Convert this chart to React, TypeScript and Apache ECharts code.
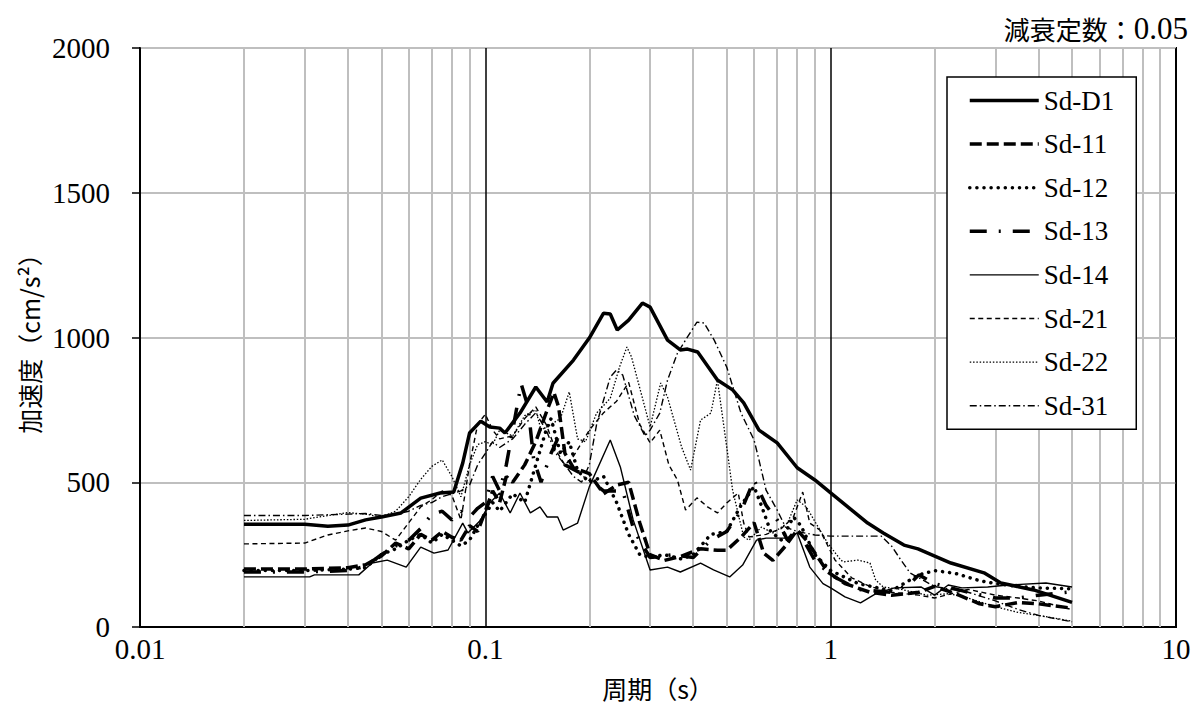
import React, { useEffect, useRef } from "react";
import * as echarts from "echarts";

// ---- data (period [s], acceleration [cm/s2]) ----
const seriesNames = ["Sd-D1", "Sd-11", "Sd-12", "Sd-13", "Sd-14", "Sd-21", "Sd-22", "Sd-31"];
const xTickValues = [0.01, 0.1, 1, 10];
const xTickLabels = ["0.01", "0.1", "1", "10"];
const minorGridPeriods = [
  0.02, 0.03, 0.04, 0.05, 0.06, 0.07, 0.08, 0.09,
  0.2, 0.3, 0.4, 0.5, 0.6, 0.7, 0.8, 0.9,
  2, 3, 4, 5, 6, 7, 8, 9,
];
const titleLabel = "減衰定数：";
const titleValue = "0.05";
const xName = "周期（s）";
const yName = "加速度（cm/s²）";

const sdD1 = [
  [0.02, 355], [0.03, 355], [0.035, 348], [0.04, 352], [0.045, 370], [0.05, 380], [0.057, 394],
  [0.065, 445], [0.074, 463], [0.081, 466], [0.086, 566], [0.09, 670], [0.097, 711], [0.103, 691],
  [0.11, 687], [0.114, 670], [0.126, 739], [0.14, 829], [0.151, 777], [0.157, 842], [0.18, 922],
  [0.2, 998], [0.22, 1084], [0.23, 1081], [0.241, 1026], [0.26, 1060], [0.285, 1119], [0.3, 1105],
  [0.337, 991], [0.367, 957], [0.385, 960], [0.412, 950], [0.47, 853], [0.52, 819], [0.56, 774],
  [0.62, 680], [0.7, 636], [0.8, 550], [0.9, 508], [1.0, 463], [1.28, 359], [1.42, 325],
  [1.63, 283], [1.79, 270], [2.23, 221], [2.78, 187], [3.11, 152], [3.87, 128], [5.0, 85],
];
const sd11 = [
  [0.02, 200], [0.03, 200], [0.04, 205], [0.045, 215], [0.05, 245], [0.055, 290], [0.06, 270],
  [0.065, 320], [0.07, 300], [0.075, 330], [0.08, 310], [0.085, 300], [0.09, 350], [0.095, 330],
  [0.1, 400], [0.105, 470], [0.11, 430], [0.115, 520], [0.12, 500], [0.13, 560], [0.14, 640],
  [0.15, 740], [0.158, 810], [0.163, 760], [0.17, 600], [0.18, 550], [0.2, 530], [0.22, 460],
  [0.24, 490], [0.26, 500], [0.28, 360], [0.3, 250], [0.33, 230], [0.37, 245], [0.42, 270],
  [0.47, 265], [0.5, 265], [0.55, 310], [0.6, 360], [0.64, 255], [0.68, 230], [0.74, 280],
  [0.8, 335], [0.85, 300], [0.98, 190], [1.1, 150], [1.3, 120], [1.5, 110], [1.8, 120],
  [2.0, 140], [2.3, 115], [2.7, 80], [3.0, 70], [3.5, 85], [4.0, 80], [5.0, 65],
];
const sd12 = [
  [0.02, 195], [0.03, 195], [0.04, 200], [0.045, 205], [0.05, 250], [0.055, 270], [0.06, 300],
  [0.065, 320], [0.07, 290], [0.075, 320], [0.08, 300], [0.085, 280], [0.09, 300], [0.095, 350],
  [0.1, 390], [0.105, 430], [0.11, 400], [0.12, 460], [0.13, 430], [0.14, 560], [0.15, 680],
  [0.155, 720], [0.165, 600], [0.175, 640], [0.185, 540], [0.2, 500], [0.22, 520], [0.24, 430],
  [0.26, 320], [0.28, 250], [0.3, 240], [0.33, 250], [0.37, 235], [0.4, 250], [0.45, 320],
  [0.5, 330], [0.55, 420], [0.6, 485], [0.63, 420], [0.67, 330], [0.72, 300], [0.78, 380],
  [0.82, 350], [0.9, 250], [1.0, 195], [1.2, 150], [1.5, 125], [1.8, 180], [2.0, 195],
  [2.3, 185], [2.7, 160], [3.0, 150], [3.5, 140], [4.0, 135], [5.0, 132],
];
const sd13 = [
  [0.02, 190], [0.03, 190], [0.04, 195], [0.045, 210], [0.05, 250], [0.055, 280], [0.06, 300],
  [0.065, 340], [0.07, 390], [0.075, 400], [0.08, 370], [0.085, 400], [0.09, 380], [0.095, 410],
  [0.1, 430], [0.105, 520], [0.11, 470], [0.115, 560], [0.12, 680], [0.127, 840], [0.133, 760],
  [0.138, 580], [0.145, 500], [0.155, 600], [0.162, 650], [0.17, 560], [0.19, 530], [0.2, 510],
  [0.22, 470], [0.25, 470], [0.27, 330], [0.3, 240], [0.35, 250], [0.4, 240], [0.45, 300],
  [0.5, 330], [0.55, 400], [0.6, 508], [0.65, 420], [0.7, 370], [0.75, 300], [0.8, 340],
  [0.9, 230], [1.0, 180], [1.2, 130], [1.5, 120], [1.7, 150], [1.8, 180], [2.0, 150],
  [2.5, 120], [3.0, 100], [3.5, 100], [4.0, 110], [5.0, 122],
];
const sd14 = [
  [0.02, 173], [0.031, 173], [0.032, 180], [0.043, 180], [0.047, 221], [0.052, 231], [0.059, 207],
  [0.065, 276], [0.071, 255], [0.078, 266], [0.086, 359], [0.089, 325], [0.097, 370], [0.103, 428],
  [0.11, 463], [0.118, 394], [0.126, 463], [0.135, 394], [0.144, 415], [0.151, 380], [0.162, 380],
  [0.168, 335], [0.185, 359], [0.2, 484], [0.23, 646], [0.246, 553], [0.268, 370], [0.3, 197],
  [0.337, 207], [0.367, 190], [0.42, 221], [0.458, 197], [0.51, 173], [0.556, 214], [0.61, 300],
  [0.65, 307], [0.75, 307], [0.8, 325], [0.87, 207], [0.95, 150], [1.0, 135], [1.1, 104],
  [1.22, 83], [1.36, 117], [1.53, 135], [1.83, 138], [2.0, 110], [2.19, 145], [2.4, 135],
  [2.85, 138], [3.26, 145], [4.2, 152], [5.0, 138],
];
const sd21 = [
  [0.02, 287], [0.03, 290], [0.035, 318], [0.04, 332], [0.045, 342], [0.05, 330], [0.055, 300],
  [0.06, 360], [0.065, 415], [0.07, 440], [0.075, 470], [0.08, 455], [0.085, 370], [0.09, 560],
  [0.095, 700], [0.1, 735], [0.105, 680], [0.11, 650], [0.12, 660], [0.13, 720], [0.14, 760],
  [0.15, 700], [0.16, 610], [0.17, 560], [0.18, 590], [0.2, 680], [0.22, 740], [0.24, 780],
  [0.26, 845], [0.28, 700], [0.3, 636], [0.32, 680], [0.34, 560], [0.36, 508], [0.38, 404],
  [0.41, 446], [0.44, 415], [0.47, 394], [0.5, 428], [0.54, 463], [0.56, 359], [0.58, 311],
  [0.65, 320], [0.72, 340], [0.78, 380], [0.83, 466], [0.87, 359], [0.93, 335], [1.03, 231],
  [1.15, 170], [1.3, 140], [1.5, 120], [1.8, 110], [2.0, 100], [2.5, 130], [3.0, 110],
  [3.5, 100], [4.0, 90], [5.0, 60],
];
const sd22 = [
  [0.02, 368], [0.03, 372], [0.035, 385], [0.04, 395], [0.045, 390], [0.05, 380], [0.055, 400],
  [0.06, 450], [0.065, 510], [0.07, 555], [0.075, 577], [0.08, 520], [0.085, 450], [0.09, 560],
  [0.095, 630], [0.1, 640], [0.105, 630], [0.11, 680], [0.12, 660], [0.13, 730], [0.14, 750],
  [0.145, 680], [0.155, 700], [0.165, 720], [0.175, 812], [0.185, 650], [0.195, 640], [0.21, 739],
  [0.23, 790], [0.245, 900], [0.257, 967], [0.265, 933], [0.3, 691], [0.322, 843], [0.337, 794],
  [0.37, 622], [0.393, 542], [0.42, 715], [0.45, 739], [0.47, 853], [0.5, 622], [0.52, 473],
  [0.56, 311], [0.58, 300], [0.63, 345], [0.68, 325], [0.75, 359], [0.8, 439], [0.85, 415],
  [0.98, 290], [1.07, 231], [1.09, 225], [1.2, 231], [1.3, 221], [1.35, 162], [1.42, 138],
  [1.6, 130], [1.9, 110], [2.2, 115], [2.5, 100], [3.0, 70], [3.5, 50], [4.0, 40], [5.0, 20],
];
const sd31 = [
  [0.02, 385], [0.03, 385], [0.04, 390], [0.045, 392], [0.05, 385], [0.055, 390], [0.06, 400],
  [0.065, 420], [0.07, 430], [0.075, 450], [0.08, 460], [0.085, 470], [0.09, 490], [0.095, 560],
  [0.1, 600], [0.105, 640], [0.11, 620], [0.12, 650], [0.13, 700], [0.14, 740], [0.15, 680],
  [0.16, 600], [0.17, 560], [0.18, 520], [0.19, 500], [0.2, 560], [0.21, 700], [0.22, 784],
  [0.23, 863], [0.24, 888], [0.25, 870], [0.27, 730], [0.29, 660], [0.3, 680], [0.32, 739],
  [0.337, 853], [0.36, 946], [0.385, 1002], [0.41, 1053], [0.43, 1050], [0.46, 991], [0.5, 898],
  [0.55, 739], [0.6, 646], [0.62, 577], [0.65, 473], [0.7, 404], [0.74, 345], [0.8, 330],
  [0.9, 318], [1.0, 314], [1.2, 314], [1.4, 314], [1.5, 280], [1.6, 230], [1.7, 186],
  [2.0, 140], [2.5, 120], [3.0, 90], [3.5, 60], [4.0, 40], [5.0, 18],
];
const seriesData = [sdD1, sd11, sd12, sd13, sd14, sd21, sd22, sd31];

// ---- styles ----
const lineStyles: any[] = [
  { width: 3.5, type: "solid" },
  { width: 3.5, type: [12, 5] },
  { width: 3.5, type: [0.1, 7], cap: "round" },
  { width: 3.5, type: [17, 12, 2, 12] },
  { width: 1.4, type: "solid" },
  { width: 1.4, type: [5, 3.5] },
  { width: 1.3, type: [1.5, 1.8] },
  { width: 1.4, type: [7, 3, 1.5, 3] },
];

const NUM_FONT = "'Liberation Serif', serif";
const CJK_FONT = "'Noto Sans CJK JP', sans-serif";

export default function App() {
  const ref = useRef<HTMLDivElement>(null);
  useEffect(() => {
    if (!ref.current) return;
    const chart = echarts.init(ref.current, undefined, { renderer: "svg" });
    const series: any[] = seriesNames.map((name, i) => ({
      name,
      type: "line",
      data: seriesData[i],
      symbol: "none",
      showSymbol: false,
      lineStyle: { color: "#000", ...lineStyles[i] },
      itemStyle: { color: "#000" },
      z: 3,
    }));
    series.push({
      name: "minorGrid",
      type: "line",
      data: [],
      silent: true,
      markLine: {
        silent: true,
        symbol: "none",
        z: 1,
        label: { show: false },
        lineStyle: { color: "#bfbfbf", width: 2, type: "solid" },
        emphasis: { disabled: true },
        animation: false,
        data: minorGridPeriods.map((p) => ({ xAxis: p })),
      },
    });
    const legendText = { fontFamily: NUM_FONT, fontSize: 27, color: "#000", lineHeight: 29 };
    chart.setOption({
      animation: false,
      backgroundColor: "#fff",
      textStyle: { fontFamily: NUM_FONT },
      title: {
        text: "{a|" + titleLabel + "}{b|" + titleValue + "}",
        right: 10,
        top: 8,
        textStyle: {
          fontSize: 26,
          fontWeight: "normal",
          color: "#000",
          fontFamily: NUM_FONT,
          rich: {
            a: { fontFamily: CJK_FONT, fontSize: 26, color: "#000" },
            b: { fontFamily: NUM_FONT, fontSize: 31, color: "#000" },
          },
        },
      },
      grid: {
        left: 140,
        right: 27,
        top: 48,
        bottom: 83,
        show: true,
        borderColor: "#000",
        borderWidth: 2,
        backgroundColor: "transparent",
      },
      legend: {
        data: seriesNames.map((name, i) => ({
          name,
          itemStyle: { opacity: 0, color: "transparent", borderWidth: 0 },
          lineStyle: { color: "#000", ...lineStyles[i] },
          textStyle: legendText,
        })),
        orient: "vertical",
        left: 947,
        top: 77,
        padding: [9, 22, 9, 21],
        itemWidth: 69,
        itemHeight: 14,
        itemGap: 14.6,
        backgroundColor: "#fff",
        borderColor: "#000",
        borderWidth: 1.5,
        borderRadius: 0,
        itemStyle: { opacity: 0 },
        textStyle: legendText,
        selectedMode: false,
      },
      xAxis: {
        type: "log",
        logBase: 10,
        min: 0.01,
        max: 10,
        name: xName,
        nameLocation: "middle",
        nameGap: 48,
        nameTextStyle: { fontFamily: CJK_FONT, fontSize: 25, color: "#000" },
        axisLine: { show: true, lineStyle: { color: "#000", width: 2 } },
        axisTick: { show: false },
        axisLabel: {
          margin: 7,
          fontFamily: NUM_FONT,
          fontSize: 29,
          color: "#000",
          formatter: (v: number) => {
            const i = xTickValues.findIndex((t) => Math.abs(Math.log10(t) - Math.log10(v)) < 1e-6);
            return i >= 0 ? xTickLabels[i] : "";
          },
        },
        splitLine: { show: true, lineStyle: { color: "#000", width: 1.5 } },
        minorTick: { show: false },
        minorSplitLine: { show: false },
      },
      yAxis: {
        type: "value",
        min: 0,
        max: 2000,
        interval: 500,
        name: yName,
        nameLocation: "middle",
        nameRotate: 90,
        nameGap: 98,
        nameTextStyle: { fontFamily: CJK_FONT, fontSize: 25, color: "#000" },
        axisLine: { show: true, lineStyle: { color: "#000", width: 2 } },
        axisTick: { show: true, length: 8, lineStyle: { color: "#000", width: 1.5 } },
        axisLabel: {
          margin: 30,
          fontFamily: NUM_FONT,
          fontSize: 29,
          color: "#000",
          formatter: (v: number) => String(v),
        },
        splitLine: { show: true, lineStyle: { color: "#bfbfbf", width: 2 } },
      },
      series,
    });
    return () => chart.dispose();
  }, []);
  return (
    <div
      ref={ref}
      style={{ position: "fixed", left: 0, top: 0, width: 1203, height: 710, background: "#fff" }}
    />
  );
}
